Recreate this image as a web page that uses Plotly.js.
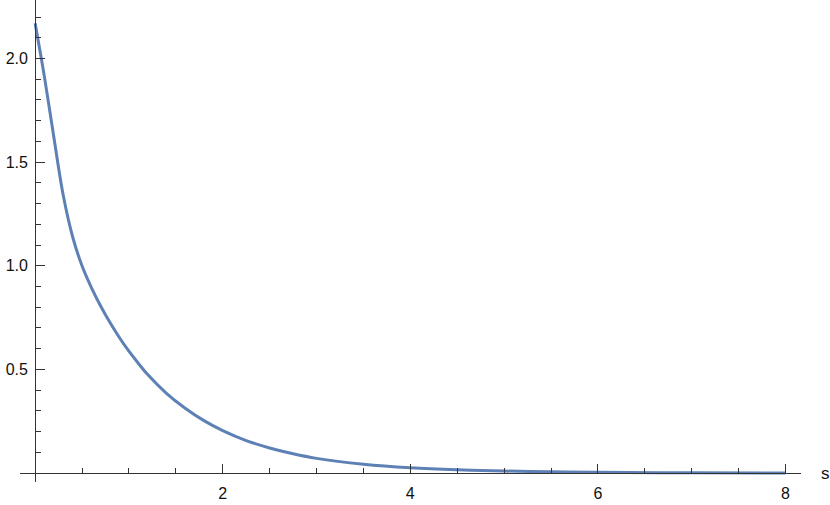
<!DOCTYPE html>
<html>
<head>
<meta charset="utf-8">
<script src="https://cdn.plot.ly/plotly-3.0.1.min.js"></script>
<style>
  html, body { margin: 0; padding: 0; background: #fff; }
  #chart { width: 830px; height: 505px; }
</style>
</head>
<body>
<div id="chart"></div>
<script>
// ── curve ────────────────────────────────────────────────────
const sVals = [0, 0.1, 0.2, 0.3, 0.4, 0.5, 0.6, 0.7, 0.8, 0.9, 1.0, 1.1, 1.2, 1.4, 1.6, 1.8,
               2.0, 2.25, 2.5, 2.75, 3.0, 3.5, 4.0, 4.5, 5.0, 5.5, 6.0, 7.0, 8.0];
const fVals = [2.17, 1.91, 1.62, 1.34, 1.14, 1.00, 0.895, 0.805, 0.725, 0.653, 0.588, 0.53, 0.475,
               0.385, 0.313, 0.253, 0.205, 0.157, 0.121, 0.093, 0.071, 0.043, 0.026, 0.016, 0.010,
               0.006, 0.004, 0.0015, 0.0006];

const xTicks = [2, 4, 6, 8];
const xTickText = ['2', '4', '6', '8'];
const yTicks = [0.5, 1.0, 1.5, 2.0];
const yTickText = ['0.5', '1.0', '1.5', '2.0'];

const axisCol = '#333333';
const tickFont = { family: 'Liberation Sans, Arial, sans-serif', size: 16, color: '#111' };

const trace = {
    type: 'scatter',
    mode: 'lines',
    x: sVals,
    y: fVals,
    line: { color: '#5E81B5', width: 3, shape: 'spline', smoothing: 1 },
    hoverinfo: 'skip',
};

const layout = {
    width: 830,
    height: 505,
    margin: { l: 20, r: 29, t: 0, b: 23 },
    paper_bgcolor: '#fff',
    plot_bgcolor: '#fff',
    showlegend: false,
    xaxis: {
        range: [-0.161, 8.165],
        anchor: 'free',
        position: 9 / 482,
        showline: true, linecolor: axisCol, linewidth: 1,
        showgrid: false, zeroline: false,
        tickmode: 'array', tickvals: xTicks, ticktext: xTickText,
        ticks: 'inside', ticklen: 9, tickwidth: 1, tickcolor: axisCol,
        ticklabelstandoff: 6,
        tickfont: tickFont,
        minor: { dtick: 0.5, tick0: 0, ticks: 'inside', ticklen: 5, tickcolor: axisCol, showgrid: false },
    },
    yaxis: {
        range: [-0.043, 2.282],
        anchor: 'free',
        position: 15.1 / 781,
        showline: true, linecolor: axisCol, linewidth: 1,
        showgrid: false, zeroline: false,
        tickmode: 'array', tickvals: yTicks, ticktext: yTickText,
        ticks: 'inside', ticklen: 9, tickwidth: 1, tickcolor: axisCol,
        ticklabelstandoff: 4,
        tickfont: tickFont,
        minor: { dtick: 0.1, tick0: 0, ticks: 'inside', ticklen: 5, tickcolor: axisCol, showgrid: false },
    },
    annotations: [
        {
            text: 's', xref: 'paper', yref: 'y', x: 1, y: 0,
            xanchor: 'left', yanchor: 'middle', xshift: 18, showarrow: false,
            font: { family: 'Liberation Sans, Arial, sans-serif', size: 17, color: '#111' },
        }
    ],
};

Plotly.newPlot('chart', [trace], layout, { staticPlot: true, displayModeBar: false });
</script>
</body>
</html>
